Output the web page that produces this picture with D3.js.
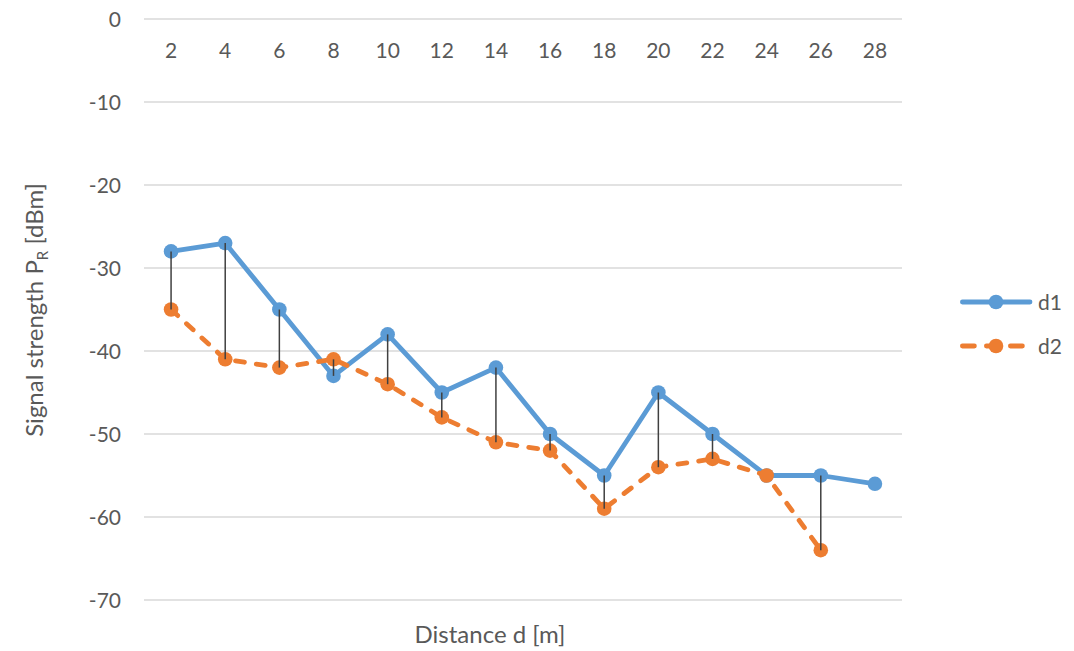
<!DOCTYPE html>
<html><head><meta charset="utf-8">
<script src="https://cdn.jsdelivr.net/npm/d3@7"></script>
<style>body{margin:0;background:#fff}svg{display:block;font-family:Lato,"Open Sans",sans-serif}</style>
</head><body>
<svg id="c" width="1074" height="651"></svg>
<script>
const categories = ["2","4","6","8","10","12","14","16","18","20","22","24","26","28"];
const d1 = [-28,-27,-35,-43,-38,-45,-42,-50,-55,-45,-50,-55,-55,-56];
const d2 = [-35,-41,-42,-41,-44,-48,-51,-52,-59,-54,-53,-55,-64,null];
const yTicks = [0,-10,-20,-30,-40,-50,-60,-70];
const seriesNames = ["d1","d2"];
const colors = ["#5B9BD5","#ED7D31"];

const svg = d3.select("#c");
const x = d3.scaleBand().domain(categories).range([144,902]);
const y = d3.scaleLinear().domain([-70,0]).range([600,19]);
const cx = c => x(c) + x.bandwidth()/2;
const txt = "#595959";
const FF = "Lato,'Open Sans',sans-serif";

// gridlines
svg.append("g").selectAll("line").data(yTicks).join("line")
  .attr("x1",144).attr("x2",902).attr("y1",d=>y(d)).attr("y2",d=>y(d))
  .attr("stroke","#d9d9d9").attr("stroke-width",1.3);

// y axis labels
const yAxis = d3.axisLeft(y).tickValues(yTicks).tickSize(0).tickPadding(0).tickFormat(d=>d);
const ya = svg.append("g").attr("transform","translate(121,0)").call(yAxis);
ya.select(".domain").remove();
ya.selectAll("text").attr("fill",txt).attr("font-size",21).attr("font-family",FF).attr("dy","0.36em");

// x axis labels (at top, axis crosses at 0)
const xAxis = d3.axisBottom(x).tickSize(0).tickPadding(0);
const xa = svg.append("g").attr("transform","translate(0,43)").call(xAxis);
xa.select(".domain").remove();
xa.selectAll("text").attr("fill",txt).attr("font-size",21).attr("font-family",FF);

// lines
const line = d3.line().defined(d=>d.v!==null).x(d=>cx(d.c)).y(d=>y(d.v));
const data1 = categories.map((c,i)=>({c,v:d1[i]}));
const data2 = categories.map((c,i)=>({c,v:d2[i]}));

svg.append("path").datum(data1).attr("d",line).attr("fill","none")
  .attr("stroke",colors[0]).attr("stroke-width",4.8).attr("stroke-linejoin","round");
svg.append("g").selectAll("circle").data(data1.filter(d=>d.v!==null)).join("circle")
  .attr("cx",d=>cx(d.c)).attr("cy",d=>y(d.v)).attr("r",7.3).attr("fill",colors[0]);

svg.append("path").datum(data2).attr("d",line).attr("fill","none")
  .attr("stroke",colors[1]).attr("stroke-width",4.8).attr("stroke-dasharray","9,12")
  .attr("stroke-linecap","round").attr("stroke-linejoin","round");
svg.append("g").selectAll("circle").data(data2.filter(d=>d.v!==null)).join("circle")
  .attr("cx",d=>cx(d.c)).attr("cy",d=>y(d.v)).attr("r",7.3).attr("fill",colors[1]);

// high-low lines
svg.append("g").selectAll("line").data(categories.map((c,i)=>({c,a:d1[i],b:d2[i]})).filter(d=>d.a!==null&&d.b!==null&&d.a!==d.b))
  .join("line").attr("x1",d=>cx(d.c)).attr("x2",d=>cx(d.c))
  .attr("y1",d=>y(d.a)).attr("y2",d=>y(d.b)).attr("stroke","#404040").attr("stroke-width",1.5);

// axis titles
svg.append("text").attr("x",490).attr("y",643).attr("text-anchor","middle")
  .attr("fill",txt).attr("font-size",24).text("Distance d [m]");
const yt = svg.append("text").attr("transform","translate(43,310) rotate(-90)").attr("text-anchor","middle")
  .attr("fill",txt).attr("font-size",24);
yt.append("tspan").text("Signal strength P");
yt.append("tspan").attr("font-size",15).attr("dy",5).text("R");
yt.append("tspan").attr("dy",-5).text(" [dBm]");

// legend
const legendY = [302,346];
const lg = svg.append("g");
[0,1].forEach(i=>{
  const ly = legendY[i];
  lg.append("line").attr("x1",962.4).attr("x2",1030).attr("y1",ly).attr("y2",ly)
    .attr("stroke",colors[i]).attr("stroke-width",4.8).attr("stroke-linecap","round")
    .attr("stroke-dasharray",i?"12,12":null);
  lg.append("circle").attr("cx",996).attr("cy",ly).attr("r",7.3).attr("fill",colors[i]);
  lg.append("text").attr("x",1038).attr("y",ly).attr("dy","0.36em").attr("fill",txt)
    .attr("font-size",21).attr("font-family",FF).text(seriesNames[i]);
});
</script>
</body></html>
